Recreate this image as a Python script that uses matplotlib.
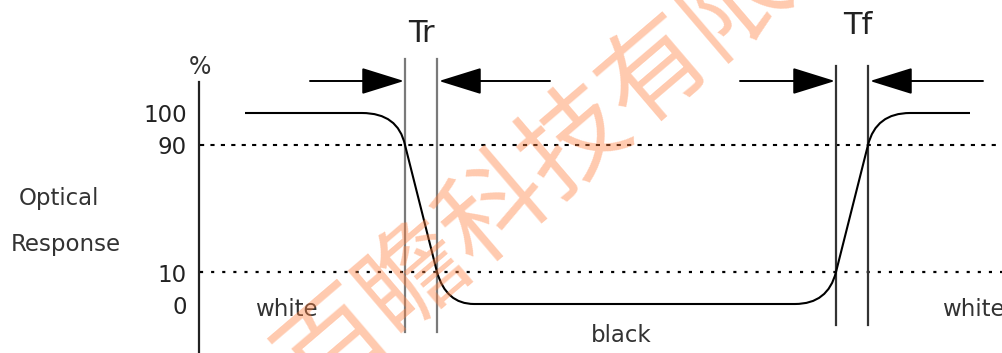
import numpy as np
import matplotlib.pyplot as plt
from matplotlib.path import Path
from matplotlib.patches import PathPatch
from matplotlib.transforms import blended_transform_factory

# Niveles de respuesta optica (%) y sus etiquetas
levels = [100, 90, 10, 0]
level_labels = ['100', '90', '10', '0']
threshold_levels = [90, 10]

# Curva de respuesta: tiempo (u.a.) y porcentaje.
# Los tramos CURVE3 dan las esquinas redondeadas (punto de control + punto final)
resp_t = [245, 362, 398, 405, 437, 446, 474, 795, 828, 836, 868, 876, 910, 970]
resp_pct = [100, 100, 100, 90, 10, 0, 0, 0, 0, 10, 90, 100, 100, 100]
resp_codes = [Path.MOVETO, Path.LINETO, Path.CURVE3, Path.CURVE3, Path.LINETO,
              Path.CURVE3, Path.CURVE3, Path.LINETO, Path.CURVE3, Path.CURVE3,
              Path.LINETO, Path.CURVE3, Path.CURVE3, Path.LINETO]

# Marcas de tiempo de Tr y Tf (bordes) y colas de las flechas
tr_edges = [405, 437]
tf_edges = [836, 868]
tr_tails = [310, 550]
tf_tails = [740, 983]

# Escala vertical esquematica (no lineal): % -> altura en pixeles
pct_anchor = [-15.3, 0, 10, 90, 100, 135.3]
h_anchor = [0, 49, 81, 208, 240, 353]

def fwd(p):
    return np.interp(p, pct_anchor, h_anchor)

def inv(h):
    return np.interp(h, h_anchor, pct_anchor)

W, H = 1003, 353
fig = plt.figure(figsize=(W / 100, H / 100), dpi=100)
ax = fig.add_axes([0, 0, 1, 1])
ax.set_yscale('function', functions=(fwd, inv))
ax.set_xlim(0, W)
ax.set_ylim(pct_anchor[0], pct_anchor[-1])
ax.axis('off')

# y en fraccion de ejes a partir de la posicion vertical en pixeles
def fy(px):
    return 1 - px / H

trans = blended_transform_factory(ax.transData, ax.transAxes)

# eje vertical
ax.plot([199, 199], [fy(82), 0], transform=trans, color='#222222', lw=1.6)
ax.text(200, fy(67), '%', transform=trans, ha='center', va='center', fontsize=17, color='#333333')

# etiquetas de nivel
for lv, lab in zip(levels, level_labels):
    ax.text(187, inv(fwd(lv) - 3), lab, ha='right', va='center', fontsize=16.5, color='#222222')

# lineas de umbral 90% y 10%
ax.hlines(threshold_levels[0], 200, W, colors='black', lw=1.5, linestyles=[(0, (2, 3))])
ax.hlines(threshold_levels[1], 200, W, colors='black', lw=1.6, linestyles=[(0, (1.4, 3.6))])

# curva de respuesta
path = Path(np.column_stack([resp_t, resp_pct]), resp_codes)
ax.add_patch(PathPatch(path, facecolor='none', edgecolor='black', lw=1.5, zorder=3))

# lineas verticales de Tr y Tf
for x in tr_edges:
    ax.plot([x, x], [fy(59), fy(332)], transform=trans, color='#7a7a7a', lw=1.6)
for x in tf_edges:
    ax.plot([x, x], [fy(66), fy(325)], transform=trans, color='#333333', lw=1.6)

# flechas
arrow_kw = dict(arrowstyle='-|>,head_length=1.35,head_width=0.42', color='black',
                lw=1.4, shrinkA=0, shrinkB=0, mutation_scale=20)
for tails, edges in [(tr_tails, tr_edges), (tf_tails, tf_edges)]:
    ax.annotate('', xy=(edges[0] - 1, fy(81)), xytext=(tails[0], fy(81)),
                xycoords=trans, textcoords=trans, arrowprops=arrow_kw)
    ax.annotate('', xy=(edges[1] + 2, fy(81)), xytext=(tails[1], fy(81)),
                xycoords=trans, textcoords=trans, arrowprops=arrow_kw)

ax.text(421, fy(34), 'Tr', transform=trans, ha='center', va='center', fontsize=22, color='#222222')
ax.text(858, fy(26), 'Tf', transform=trans, ha='center', va='center', fontsize=22, color='#222222')

# textos
txt_kw = dict(transform=trans, va='center', fontsize=16.5, color='#333333')
ax.text(59, fy(198), 'Optical', ha='center', **txt_kw)
ax.text(66, fy(245), 'Response', ha='center', **txt_kw)
ax.text(286, fy(309), 'white', ha='center', **txt_kw)
ax.text(621, fy(335), 'black', ha='center', **txt_kw)
ax.text(942, fy(309), 'white', ha='left', **txt_kw)

# marca de agua (centrada entre el 3er y 4o caracter)
ax.text(535, fy(173), '百瞻科技有限', transform=trans, ha='center', va='center',
        rotation=40.5, rotation_mode='anchor', fontsize=76, fontweight='medium',
        color='#ff8040', alpha=0.42, family=['Noto Sans CJK SC', 'DejaVu Sans'], zorder=5)

fig.savefig('out.png', dpi=100)
